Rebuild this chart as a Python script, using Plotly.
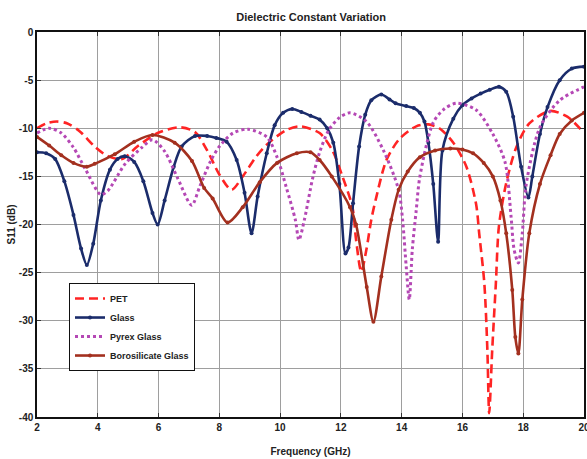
import plotly.graph_objects as go

# ---------------- data ----------------
pet_x = [2.0, 2.3, 2.65, 3.0, 3.4, 3.9, 4.33, 4.8, 5.3, 5.97, 6.7, 7.2, 7.6, 8.0, 8.4,
         8.77, 9.2, 9.56, 10.2, 10.64, 11.3, 11.72, 12.05, 12.38, 12.5, 12.67, 12.84, 13.0,
         13.17, 13.5, 13.93, 14.48, 14.88, 15.24, 15.7, 16.13, 16.45, 16.55, 16.72, 16.82,
         16.88, 16.98, 17.1, 17.2, 17.44, 17.77, 18.2, 18.88, 19.45, 20.0]
pet_y = [-10.0, -9.5, -9.3, -9.5, -10.3, -11.9, -12.9, -13.2, -11.9, -10.5, -9.9, -10.4, -12.3, -14.8, -16.4,
         -15.0, -13.0, -11.7, -10.2, -9.8, -10.5, -12.3, -15.0, -18.2, -21.6, -24.9, -22.6, -19.5,
         -17.1, -13.3, -11.1, -9.8, -9.6, -10.0, -11.5, -14.0, -17.9, -20.9, -26.1, -33.0,
         -39.6, -33.0, -26.1, -20.2, -15.7, -12.0, -9.5, -8.2, -8.8, -10.5]

glass_x = [2.0, 2.3, 2.6, 2.9, 3.2, 3.45, 3.64, 3.85, 4.1, 4.4, 4.65, 4.89, 5.2, 5.5, 5.8, 5.97,
           6.2, 6.5, 6.76, 7.2, 7.6, 7.9, 8.24, 8.57, 8.83, 9.06, 9.26, 9.56, 9.82, 10.1, 10.4,
           10.7, 11.0, 11.3, 11.55, 11.75, 11.95, 12.15, 12.25, 12.4, 12.6, 12.8, 13.0, 13.33,
           13.6, 13.8, 14.15, 14.4, 14.6, 14.75, 14.88, 15.04, 15.2, 15.34, 15.7, 16.0, 16.3,
           16.6, 16.9, 17.2, 17.44, 17.67, 17.93, 18.17, 18.3, 18.55, 18.8, 19.2, 19.6, 20.0]
glass_y = [-12.5, -12.6, -13.2, -15.5, -19.0, -22.5, -24.2, -22.0, -17.5, -14.3, -13.2, -12.9, -13.5, -15.5, -18.8, -20.0,
           -17.5, -14.0, -11.9, -10.8, -10.8, -11.0, -11.4, -13.3, -16.7, -20.9, -17.1, -12.6, -9.7, -8.4, -8.0,
           -8.3, -8.7, -9.1, -10.0, -11.5, -15.8, -23.0, -22.4, -17.8, -11.9, -8.6, -7.1, -6.5,
           -7.0, -7.4, -7.7, -7.9, -8.4, -9.3, -11.5, -15.8, -21.8, -12.3, -9.0, -7.6, -6.9,
           -6.4, -6.0, -5.7, -6.2, -8.8, -14.0, -17.2, -15.0, -10.6, -7.8, -5.0, -3.8, -3.6]

pyrex_x = [2.0, 2.4, 2.8, 3.2, 3.6, 4.1, 4.33, 4.9, 5.45, 5.8, 6.2, 6.63, 7.09, 7.35, 7.7, 8.0,
           8.45, 8.94, 9.56, 9.9, 10.2, 10.5, 10.62, 10.8, 11.07, 11.3, 11.6, 11.95, 12.3, 12.84,
           13.4, 13.9, 14.03, 14.15, 14.25, 14.35, 14.48, 14.6, 15.04, 15.4, 15.8, 16.45, 17.0,
           17.4, 17.6, 17.7, 17.84, 17.97, 18.1, 18.55, 19.2, 20.0]
pyrex_y = [-10.5, -10.0, -10.5, -12.0, -14.3, -16.9, -16.5, -13.7, -12.0, -11.2, -12.4, -15.2, -18.0, -16.1, -13.5, -11.9,
           -10.5, -10.1, -10.9, -13.0, -16.1, -19.5, -21.6, -19.5, -15.2, -12.5, -10.2, -8.9, -8.4, -9.3,
           -12.3, -16.4, -19.5, -24.4, -27.8, -22.6, -18.5, -15.0, -9.4, -8.0, -7.4, -8.1, -10.6,
           -13.5, -19.2, -22.6, -24.0, -20.9, -15.8, -9.9, -7.1, -5.7]

boro_x = [2.0, 2.4, 2.8, 3.2, 3.64, 3.9, 4.56, 5.2, 5.8, 6.53, 7.1, 7.5, 7.78, 8.27, 8.77, 9.33,
          9.9, 10.55, 11.0, 11.3, 11.7, 12.3, 12.5, 12.85, 13.07, 13.33, 13.66, 13.9, 14.2, 14.6,
          15.1, 15.6, 16.0, 16.35, 16.7, 17.0, 17.25, 17.44, 17.64, 17.74, 17.84, 17.97, 18.2,
          18.55, 18.9, 19.2, 19.6, 20.0]
boro_y = [-10.9, -11.8, -12.8, -13.6, -14.0, -13.7, -12.7, -11.4, -10.7, -11.5, -13.4, -16.2, -17.3, -19.8, -18.2, -15.6,
          -13.6, -12.6, -12.5, -13.3, -15.0, -18.2, -20.0, -26.5, -30.1, -25.4, -19.5, -16.4, -14.5, -13.0,
          -12.3, -12.1, -12.2, -12.6, -13.6, -15.0, -17.5, -20.9, -26.8, -31.7, -33.4, -27.8, -20.9,
          -15.8, -12.8, -10.6, -9.2, -8.4]

x_ticks = [2, 4, 6, 8, 10, 12, 14, 16, 18, 20]
y_ticks = [0, -5, -10, -15, -20, -25, -30, -35, -40]

FONT = "Liberation Sans Narrow, Arial Narrow, Liberation Sans, Arial, sans-serif"

fig = go.Figure()
fig.add_trace(go.Scatter(x=pet_x, y=pet_y, name="<b>PET</b>", mode="lines",
                         line=dict(color="#FF2424", width=2.6, dash="9px,5px", shape="spline", smoothing=0.8)))
fig.add_trace(go.Scatter(x=glass_x, y=glass_y, name="<b>Glass</b>", mode="lines+markers",
                         line=dict(color="#1B2C6B", width=2.6, shape="spline", smoothing=0.8),
                         marker=dict(size=4, color="#1B2C6B", symbol="circle")))
fig.add_trace(go.Scatter(x=pyrex_x, y=pyrex_y, name="<b>Pyrex Glass</b>", mode="lines",
                         line=dict(color="#B548B5", width=3, dash="3px,3px", shape="spline", smoothing=0.8)))
fig.add_trace(go.Scatter(x=boro_x, y=boro_y, name="<b>Borosilicate Glass</b>", mode="lines+markers",
                         line=dict(color="#A3301F", width=2.6, shape="spline", smoothing=0.8),
                         marker=dict(size=4, color="#A3301F", symbol="circle")))

axis_common = dict(showgrid=True, gridcolor="#9E9E9E", gridwidth=1, automargin=False,
                   showline=True, linecolor="#111111", linewidth=1.5, mirror="ticks",
                   ticks="inside", ticklen=4, tickcolor="#333333", zeroline=False,
                   ticklabeloverflow="allow",
                   tickfont=dict(family=FONT, size=10, color="#222222"))

fig.update_layout(
    width=587, height=459,
    margin=dict(l=37, r=3, t=32, b=42),
    paper_bgcolor="white", plot_bgcolor="white",
    font=dict(family=FONT, color="#222222"),
    title=dict(text="<b>Dielectric Constant Variation</b>", x=0.53, xanchor="center",
               y=1 - 17 / 459, yanchor="middle", font=dict(family=FONT, size=11, color="#222222"),
               automargin=False),
    xaxis=dict(range=[2, 20], tickvals=x_ticks, ticktext=[f"<b>{v}</b>" for v in x_ticks],
               title=dict(text="<b>Frequency (GHz)</b>", font=dict(family=FONT, size=10), standoff=16),
               **axis_common),
    yaxis=dict(range=[-40, 0], tickvals=y_ticks, ticktext=[f"<b>{v}</b>" for v in y_ticks],
               title=dict(text="<b>S11 (dB)</b>", font=dict(family=FONT, size=10), standoff=1),
               **axis_common),
    legend=dict(x=0.0585, y=0.348, xanchor="left", yanchor="top",
                bgcolor="white", bordercolor="#111111", borderwidth=1,
                font=dict(family=FONT, size=9, color="#222222"),
                tracegroupgap=0, itemwidth=30),
    showlegend=True,
)

fig.write_html("out.html", config={"displayModeBar": False},
               post_script="document.body.style.margin='0';document.body.style.overflow='hidden';")
